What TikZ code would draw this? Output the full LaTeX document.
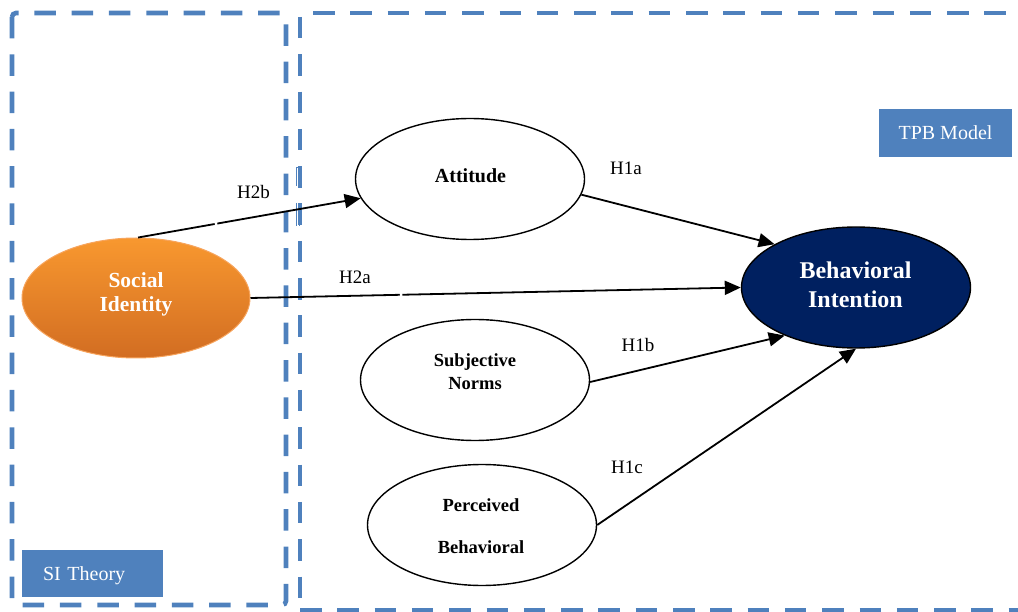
\documentclass[tikz,border=0pt]{standalone}
\usepackage{fontspec}
\setmainfont{Liberation Serif}
\usetikzlibrary{arrows.meta,shapes.geometric}
\definecolor{frameblue}{HTML}{4F81BD}
\definecolor{navy}{HTML}{002060}
\definecolor{orangetop}{HTML}{F8982F}
\definecolor{orangebot}{HTML}{D26D22}
\definecolor{orangeline}{HTML}{F7A55E}
\newcommand\fsz[1]{\fontsize{#1}{#1}\selectfont}

\begin{document}
\begin{tikzpicture}[x=1pt,y=-1pt,
  frame/.style={draw=frameblue,line width=4.6pt,dash pattern=on 21.5pt off 15.8pt},
  construct/.style={ellipse,draw=black,line width=1.4pt,minimum width=229pt,
    minimum height=121pt,inner sep=0pt},
  ctext/.style={anchor=base,inner sep=0pt,font=\bfseries\fsz{#1}},
  htext/.style={anchor=base,inner sep=0pt,font=\fsz{19}},
  link/.style={line width=1.8pt,-{Triangle[length=16pt,width=14pt]}},
  gapmark/.style={fill=white,inner sep=0pt,minimum width=2.5pt,minimum height=5pt,sloped},
  tag/.style={rectangle,fill=frameblue,text=white,font=\fsz{20},inner ysep=0pt,
    text height=14pt,text depth=1pt}
]
\useasboundingbox (0,0) rectangle (1018,612);

% theory frames
\draw[frame,rounded corners=4pt] (12,13) rectangle (286,605);
\draw[frame,dash phase=24.3pt] (300,13) -- (1030,13);
\draw[frame,dash phase=33.3pt] (300,13) -- (300,620);
\draw[frame] (300,610) -- (1030,610);

% thin marks on the TPB frame edge
\draw[frameblue,line width=0.8pt] (296.5,186) -- (296.5,167) -- (301,167);
\draw[frameblue,line width=0.8pt] (299.5,169) -- (299.5,186);
\draw[frameblue,line width=0.8pt] (296.5,203) -- (296.5,226);
\draw[frameblue,line width=0.8pt] (299.5,203) -- (299.5,226);

% frame tags
\node[tag,minimum width=133pt,minimum height=48pt] (tpbtag) at (945.5,133) {TPB Model};
\node[tag,text width=99pt,inner xsep=21pt,align=left,minimum height=47pt]
  (sitag) at (92.5,573.5) {SI Theory};

% constructs
\node[construct,draw=orangeline,line width=1pt,top color=orangetop,bottom color=orangebot,
  minimum width=228pt,minimum height=120pt] (si) at (136,298) {};
\node[construct] (att) at (470,179) {};
\node[construct] (sn) at (475,380) {};
\node[construct] (pb) at (482,525) {};
\node[construct,fill=navy] (bi) at (856,287.5) {};

\node[ctext=21.5,text=white] (si1) at (136,288) {Social};
\node[ctext=21.5,text=white] (si2) at (136,312) {Identity};
\node[ctext=20] (att1) at (470.5,183) {Attitude};
\node[ctext=18.5] (sn1) at (475,367) {Subjective};
\node[ctext=18.5] (sn2) at (475,390) {Norms};
\node[ctext=18.5] (pb1) at (481,511) {Perceived};
\node[ctext=18.5] (pb2) at (481,553) {Behavioral};
\node[ctext=24,text=white] (bi1) at (855.5,279) {Behavioral};
\node[ctext=24,text=white] (bi2) at (855.5,308) {Intention};

% hypothesised paths
\draw[link] (si.88) -- node[gapmark,pos=0.35] (g1) {} (att.190);
\draw[link] (si.0) -- node[gapmark,pos=0.307] (g2) {} (bi.180);
\draw[link] (att.-8) -- (bi.152.6);
\draw[link] (sn.-1) -- (bi.214);
\draw[link] (pb.0) -- (bi.270);

\node[htext] (h2b) at (253.5,199) {H2b};
\node[htext] (h2a) at (355,284) {H2a};
\node[htext] (h1a) at (626,175) {H1a};
\node[htext] (h1b) at (638,352) {H1b};
\node[htext] (h1c) at (627,473) {H1c};
\end{tikzpicture}
\end{document}
